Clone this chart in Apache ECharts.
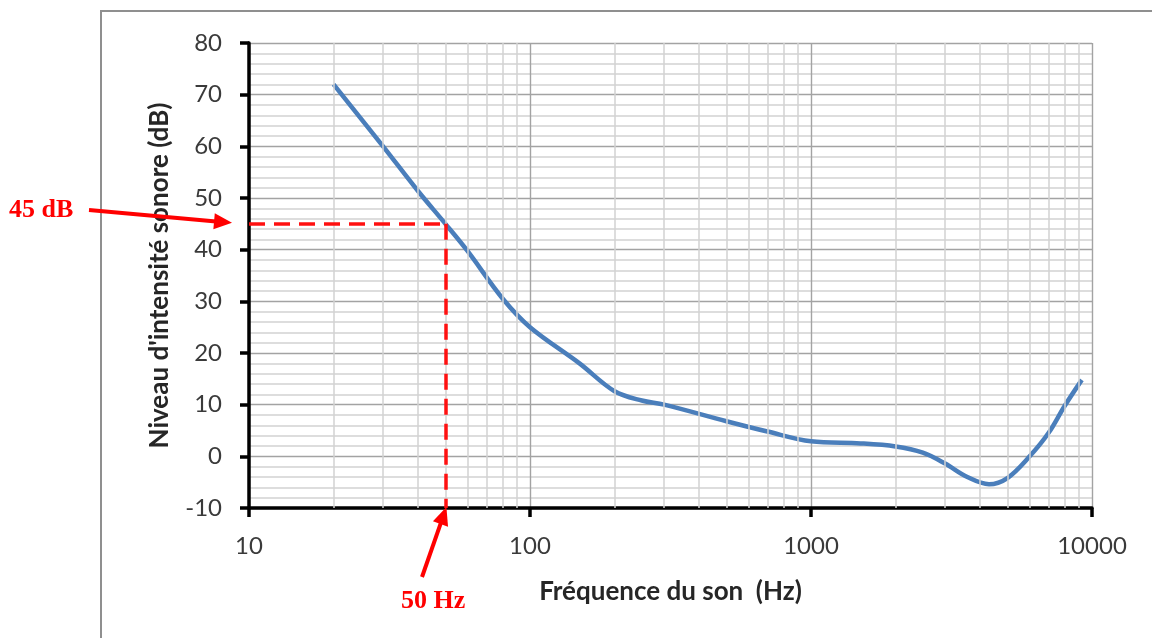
<!DOCTYPE html>
<html><head><meta charset="utf-8">
<script src="https://cdn.jsdelivr.net/npm/echarts@6/dist/echarts.min.js"></script>
<style>html,body{margin:0;padding:0;background:#fff}#c{width:1152px;height:638px}</style>
</head><body><div id="c"></div>
<script>
// Data (frequency in Hz, level in dB)
const freq  = [20, 30, 40, 50, 60, 80, 100, 150, 200, 250, 300, 500, 700, 1000, 1500, 2000, 2500, 3000, 3600, 4300, 5000, 6000, 7000, 8000, 9200];
const level = [72, 60, 51.3, 45, 39.7, 30.5, 25, 18, 12.6, 10.8, 10, 6.8, 4.8, 2.9, 2.5, 1.9, 0.7, -1.4, -4, -5.4, -4.2, 0, 4.5, 9.8, 14.8];
// axis ticks
const xTickLabels = ['10', '100', '1000', '10000'];
const yTickLabels = ['-10', '0', '10', '20', '30', '40', '50', '60', '70', '80'];
const minorFreq = [20, 30, 40, 50, 60, 70, 80, 90, 200, 300, 400, 500, 600, 700, 800, 900, 2000, 3000, 4000, 5000, 6000, 7000, 8000, 9000];
// annotation
const refFreq = 50, refLevel = 45;
const refLevelText = '45 dB', refFreqText = '50 Hz';

const chart = echarts.init(document.getElementById('c'));
const labelFont = 'Lato';
const axisLineStyle = { color: '#000', width: 3.5 };
chart.setOption({
  animation: false,
  backgroundColor: '#fff',
  grid: { left: 249, right: 60, top: 43, bottom: 130 },
  xAxis: {
    type: 'log', logBase: 10,
    min: Number(xTickLabels[0]), max: Number(xTickLabels[xTickLabels.length - 1]),
    name: 'Fréquence du son  (Hz)', nameLocation: 'middle', nameGap: 71,
    nameTextStyle: { fontFamily: labelFont, fontWeight: 'bold', fontSize: 26, color: '#262626' },
    axisLine: { show: true, onZero: false, lineStyle: axisLineStyle },
    axisTick: { show: true, inside: false, length: 9, lineStyle: axisLineStyle },
    axisLabel: { margin: 26, fontFamily: labelFont, fontSize: 24, color: '#3a3a3a',
      formatter: v => { const s = String(Math.round(v)); return xTickLabels.includes(s) ? s : ''; } },
    splitLine: { show: true, lineStyle: { color: '#a3a3a3', width: 1.4 } }
  },
  yAxis: {
    type: 'value',
    min: Number(yTickLabels[0]), max: Number(yTickLabels[yTickLabels.length - 1]), interval: 10,
    name: "Niveau d'intensité sonore (dB)", nameLocation: 'middle', nameGap: 76,
    nameTextStyle: { fontFamily: labelFont, fontWeight: 'bold', fontSize: 26, color: '#262626' },
    axisLine: { show: true, onZero: false, lineStyle: axisLineStyle },
    axisTick: { show: true, inside: false, length: 9, lineStyle: axisLineStyle },
    axisLabel: { margin: 27, fontFamily: labelFont, fontSize: 24, color: '#3a3a3a' },
    splitLine: { show: true, lineStyle: { color: '#a3a3a3', width: 1.4 } },
    minorTick: { show: false, splitNumber: 5 },
    minorSplitLine: { show: true, lineStyle: { color: '#d2d2d2', width: 1.5 } }
  },
  series: [
    {
      type: 'line', data: [], z: 1, silent: true,
      markLine: {
        silent: true, symbol: 'none', animation: false,
        label: { show: false },
        lineStyle: { color: '#d2d2d2', width: 1.5, type: 'solid' },
        emphasis: { disabled: true },
        data: minorFreq.map(f => ({ xAxis: f }))
      }
    },
    {
      type: 'line', z: 3,
      data: freq.map((f, i) => [f, level[i]]),
      smooth: 0.35, showSymbol: false, symbol: 'none',
      lineStyle: { color: '#4a7ebb', width: 4.5 },
      markLine: {
        silent: true, symbol: 'none', animation: false,
        label: { show: false },
        lineStyle: { color: '#ff1010', width: 3.5, type: [16, 9] },
        emphasis: { disabled: true },
        data: [
          [{ coord: [Number(xTickLabels[0]), refLevel] }, { coord: [refFreq, refLevel] }],
          [{ coord: [refFreq, refLevel] }, { coord: [refFreq, Number(yTickLabels[0])] }]
        ]
      }
    }
  ]
});

function arrow(sx, sy, tx, ty) {
  const dx = tx - sx, dy = ty - sy, len = Math.hypot(dx, dy);
  const ux = dx / len, uy = dy / len, nx = -uy, ny = ux;
  const L = 18, W = 8;
  const bx = tx - L * ux, by = ty - L * uy;
  return [
    { type: 'line', shape: { x1: sx, y1: sy, x2: bx + 2 * ux, y2: by + 2 * uy },
      style: { stroke: '#ff0000', lineWidth: 4 }, z: 100 },
    { type: 'polygon', shape: { points: [[tx, ty], [bx + W * nx, by + W * ny], [bx - W * nx, by - W * ny]] },
      style: { fill: '#ff0000' }, z: 100 }
  ];
}

const pLevel = chart.convertToPixel({ gridIndex: 0 }, [Number(xTickLabels[0]), refLevel]);
const pFreq = chart.convertToPixel({ gridIndex: 0 }, [refFreq, Number(yTickLabels[0])]);
const annoFont = 'bold 26px "Liberation Serif", "DejaVu Serif", serif';
chart.setOption({
  graphic: [
    { type: 'polyline', shape: { points: [[101, 660], [101, 11], [1160, 11]] },
      style: { stroke: '#8f8f8f', lineWidth: 2, fill: null }, z: 0 },
    { type: 'text', left: 9, top: 197, style: { text: refLevelText, font: annoFont, fill: '#ff0000' }, z: 100 },
    { type: 'text', left: 401, top: 588, style: { text: refFreqText, font: annoFont, fill: '#ff0000' }, z: 100 },
    ...arrow(89, 210, pLevel[0] - 17, pLevel[1] - 1),
    ...arrow(422, 577, pFreq[0] + 1, pFreq[1] - 1)
  ]
});
</script>
</body></html>
